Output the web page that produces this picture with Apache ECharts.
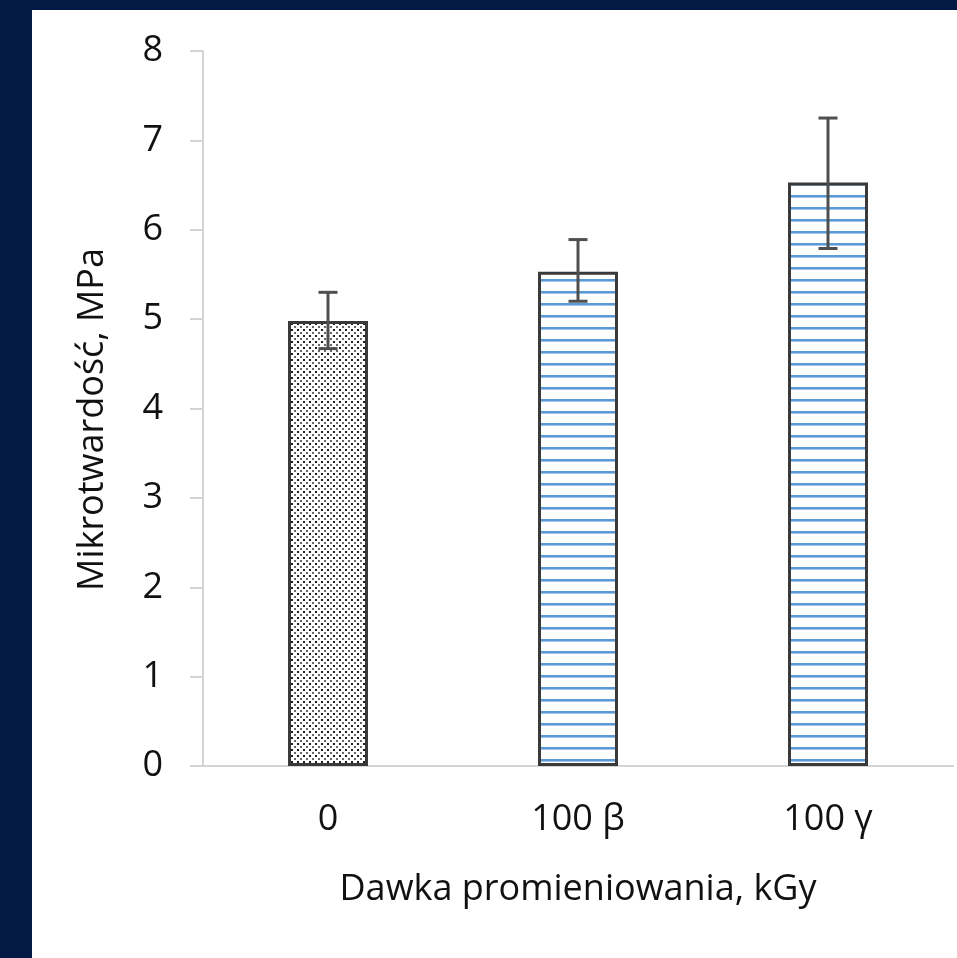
<!DOCTYPE html>
<html>
<head>
<meta charset="utf-8">
<script src="https://cdn.jsdelivr.net/npm/echarts@6/dist/echarts.min.js"></script>
<style>
html,body{margin:0;padding:0;width:957px;height:958px;background:#031b44;overflow:hidden;}
#chart{position:absolute;left:32px;top:10px;width:925px;height:948px;background:#ffffff;}
</style>
</head>
<body>
<div id="chart"></div>
<script>
const categories = ['0', '100 β', '100 γ'];
const hardness = [4.98, 5.53, 6.53];
const errLow = [4.67, 5.20, 5.79];
const errHigh = [5.30, 5.89, 7.25];
const yTicks = [0, 1, 2, 3, 4, 5, 6, 7, 8];

function dotPattern() {
  const c = document.createElement('canvas');
  c.width = 6; c.height = 6;
  const g = c.getContext('2d');
  g.fillStyle = '#ffffff'; g.fillRect(0, 0, 6, 6);
  g.fillStyle = '#1e1e1e';
  g.fillRect(1, 1, 2, 2);
  g.fillStyle = '#6a6a6a';
  g.fillRect(4, 4, 2, 2);
  return c;
}
function stripePattern() {
  const c = document.createElement('canvas');
  c.width = 12; c.height = 12;
  const g = c.getContext('2d');
  g.fillStyle = '#ffffff'; g.fillRect(0, 0, 12, 12);
  g.fillStyle = '#5b9bd5'; g.fillRect(0, 5, 12, 2);
  g.fillStyle = '#9fc2e8'; g.fillRect(0, 7, 12, 1);
  return c;
}
const fills = [dotPattern(), stripePattern(), stripePattern()];

const chart = echarts.init(document.getElementById('chart'), null, {renderer: 'canvas'});
const fontFamily = '"Open Sans", Lato, sans-serif';
const fs = 36;
const option = {
  animation: false,
  grid: {left: 171, right: 4, top: 41, bottom: 192},
  xAxis: {
    type: 'category',
    data: categories,
    axisLine: {show: true, lineStyle: {color: '#d4d4d4', width: 2}},
    axisTick: {show: false},
    axisLabel: {fontSize: fs, color: '#111', fontFamily: fontFamily, margin: 36},
    name: 'Dawka promieniowania, kGy',
    nameLocation: 'middle',
    nameGap: 106,
    nameTextStyle: {fontSize: fs, color: '#111', fontFamily: fontFamily}
  },
  yAxis: {
    type: 'value',
    min: yTicks[0],
    max: yTicks[yTicks.length - 1],
    interval: 1,
    axisLine: {show: true, lineStyle: {color: '#d4d4d4', width: 2}},
    axisTick: {show: true, length: 13, lineStyle: {color: '#d4d4d4', width: 2}},
    splitLine: {show: false},
    axisLabel: {fontSize: fs, color: '#111', fontFamily: fontFamily, margin: 40},
    name: 'Mikrotwardość, MPa',
    nameLocation: 'middle',
    nameGap: 92,
    nameTextStyle: {fontSize: fs, color: '#111', fontFamily: fontFamily, padding: [0, 22, 0, 0]}
  },
  series: [
    {
      type: 'bar',
      barWidth: 80,
      data: hardness.map((v, i) => ({
        value: v,
        itemStyle: {color: {image: fills[i], repeat: 'repeat'}, borderColor: '#3a3a3a', borderWidth: 3}
      }))
    },
    {
      type: 'custom',
      data: categories.map((c, i) => [i, errLow[i], errHigh[i]]),
      renderItem: function (params, api) {
        const x = api.value(0);
        const lo = api.coord([x, api.value(1)]);
        const hi = api.coord([x, api.value(2)]);
        const hw = 9.5;
        const st = {stroke: '#4f4f4f', lineWidth: 3};
        return {
          type: 'group',
          children: [
            {type: 'line', shape: {x1: hi[0], y1: hi[1], x2: lo[0], y2: lo[1]}, style: st},
            {type: 'line', shape: {x1: hi[0] - hw, y1: hi[1], x2: hi[0] + hw, y2: hi[1]}, style: st},
            {type: 'line', shape: {x1: lo[0] - hw, y1: lo[1], x2: lo[0] + hw, y2: lo[1]}, style: st}
          ]
        };
      },
      z: 10
    }
  ]
};
chart.setOption(option);
</script>
</body>
</html>
